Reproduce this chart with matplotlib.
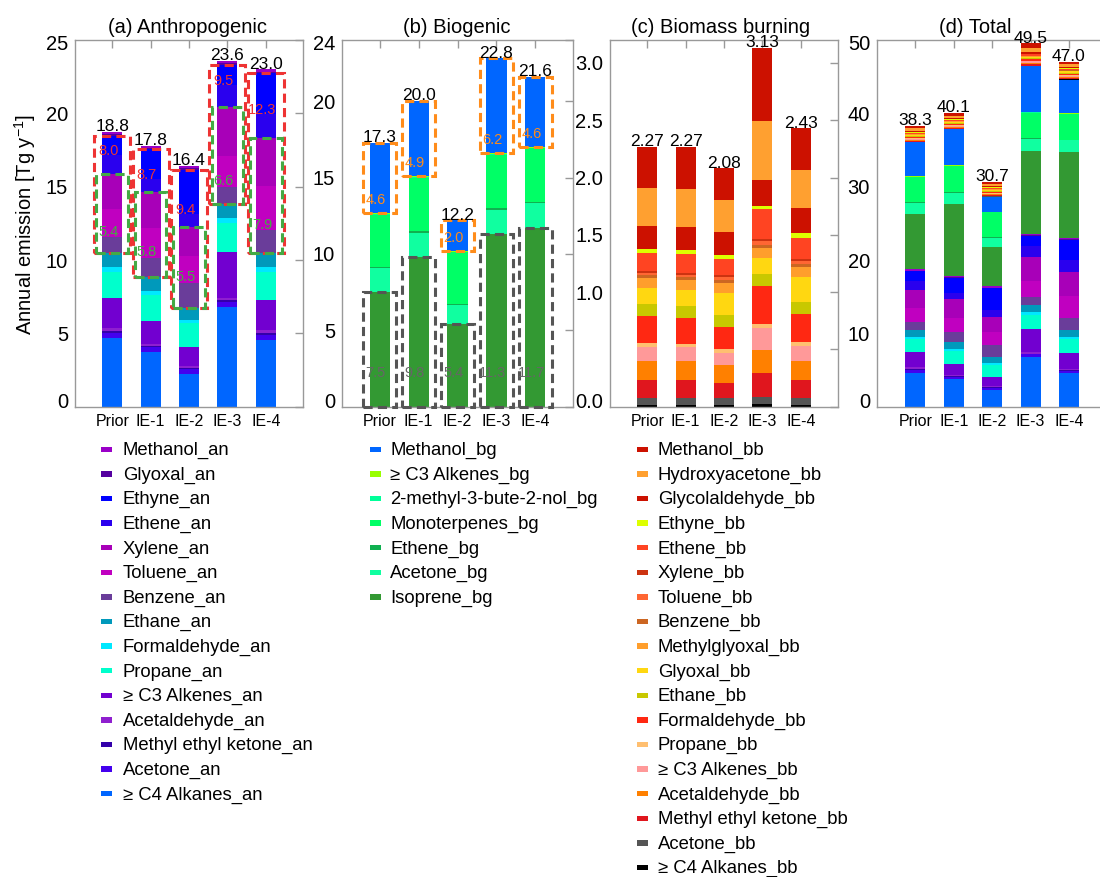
import matplotlib
matplotlib.use('Agg')
import matplotlib.pyplot as plt
from matplotlib.patches import Rectangle
from matplotlib.transforms import ScaledTranslation
import numpy as np

plt.rcParams['font.family'] = ['Liberation Sans', 'DejaVu Sans']
plt.rcParams['mathtext.fontset'] = 'custom'
plt.rcParams['mathtext.rm'] = 'Liberation Sans'
plt.rcParams['mathtext.it'] = 'Liberation Sans:italic'

# ---------------- data ----------------
scenarios = ['Prior', 'IE-1', 'IE-2', 'IE-3', 'IE-4']

# Anthropogenic (stack order bottom -> top), Tg/yr
an_c4_alkanes   = [4.65, 3.75, 2.25, 6.80, 4.55]
an_acetone      = [0.40, 0.30, 0.30, 0.35, 0.35]
an_mek          = [0.10, 0.10, 0.10, 0.10, 0.10]
an_acetaldehyde = [0.20, 0.15, 0.15, 0.15, 0.20]
an_c3_alkenes   = [2.05, 1.55, 1.30, 3.15, 2.10]
an_propane      = [1.80, 1.75, 1.60, 1.95, 1.90]
an_formaldehyde = [0.30, 0.30, 0.20, 0.35, 0.30]
an_ethane       = [0.95, 0.95, 0.85, 0.95, 0.95]
an_benzene      = [1.10, 1.30, 1.70, 1.20, 1.60]
an_toluene      = [1.90, 2.00, 1.80, 2.10, 3.00]
an_xylene       = [2.40, 2.50, 2.00, 3.30, 3.30]
an_ethene       = [1.30, 0.90, 0.90, 1.50, 1.60]
an_ethyne       = [1.30, 2.00, 3.00, 1.40, 2.80]
an_glyoxal      = [0.12, 0.10, 0.10, 0.10, 0.10]
an_methanol     = [0.19, 0.15, 0.15, 0.20, 0.15]

an_names = ['\u2265 C4 Alkanes_an', 'Acetone_an', 'Methyl ethyl ketone_an', 'Acetaldehyde_an',
            '\u2265 C3 Alkenes_an', 'Propane_an', 'Formaldehyde_an', 'Ethane_an', 'Benzene_an',
            'Toluene_an', 'Xylene_an', 'Ethene_an', 'Ethyne_an', 'Glyoxal_an', 'Methanol_an']
an_colors = ['#0066FF', '#4400EE', '#3300AA', '#8F1FCF', '#7200D0', '#00FFCC', '#00E8FF',
             '#0099BB', '#6A3D9A', '#C000C0', '#A800B8', '#2A00EE', '#0000FF', '#5500A0', '#9A00C8']

# Biogenic (bottom -> top)
bg_isoprene     = [7.50, 9.80, 5.40, 11.30, 11.70]
bg_acetone      = [1.55, 1.60, 1.25, 1.60, 1.60]
bg_ethene       = [0.10, 0.10, 0.10, 0.10, 0.10]
bg_monoterpenes = [3.42, 3.50, 3.35, 3.50, 3.50]
bg_mbo          = [0.05, 0.05, 0.05, 0.05, 0.05]
bg_c3_alkenes   = [0.05, 0.05, 0.05, 0.05, 0.05]
bg_methanol     = [4.60, 4.90, 2.00, 6.20, 4.60]

bg_names = ['Isoprene_bg', 'Acetone_bg', 'Ethene_bg', 'Monoterpenes_bg',
            '2-methyl-3-bute-2-nol_bg', '\u2265 C3 Alkenes_bg', 'Methanol_bg']
bg_colors = ['#339933', '#10FFA0', '#10B050', '#00FF66', '#00FF99', '#99FF00', '#0066FF']

# Biomass burning (bottom -> top)
bb_c4_alkanes     = [0.015, 0.015, 0.015, 0.020, 0.015]
bb_acetone        = [0.060, 0.060, 0.060, 0.065, 0.060]
bb_mek            = [0.160, 0.160, 0.135, 0.210, 0.160]
bb_acetaldehyde   = [0.160, 0.160, 0.150, 0.200, 0.160]
bb_c3_alkenes     = [0.125, 0.125, 0.105, 0.190, 0.135]
bb_propane        = [0.035, 0.030, 0.035, 0.035, 0.035]
bb_formaldehyde   = [0.240, 0.220, 0.195, 0.330, 0.240]
bb_ethane         = [0.105, 0.105, 0.105, 0.110, 0.105]
bb_glyoxal        = [0.140, 0.145, 0.190, 0.135, 0.220]
bb_methylglyoxal  = [0.085, 0.090, 0.090, 0.090, 0.090]
bb_benzene        = [0.020, 0.020, 0.025, 0.030, 0.025]
bb_toluene        = [0.020, 0.020, 0.025, 0.030, 0.025]
bb_xylene         = [0.015, 0.015, 0.015, 0.020, 0.020]
bb_ethene         = [0.165, 0.170, 0.140, 0.260, 0.185]
bb_ethyne         = [0.030, 0.035, 0.040, 0.030, 0.040]
bb_glycolaldehyde = [0.200, 0.200, 0.200, 0.220, 0.220]
bb_hydroxyacetone = [0.330, 0.330, 0.280, 0.520, 0.330]
bb_methanol       = [0.365, 0.370, 0.275, 0.635, 0.365]

bb_names = ['\u2265 C4 Alkanes_bb', 'Acetone_bb', 'Methyl ethyl ketone_bb', 'Acetaldehyde_bb',
            '\u2265 C3 Alkenes_bb', 'Propane_bb', 'Formaldehyde_bb', 'Ethane_bb', 'Glyoxal_bb',
            'Methylglyoxal_bb', 'Benzene_bb', 'Toluene_bb', 'Xylene_bb', 'Ethene_bb', 'Ethyne_bb',
            'Glycolaldehyde_bb', 'Hydroxyacetone_bb', 'Methanol_bb']
bb_colors = ['#000000', '#555555', '#E0161E', '#FF8000', '#FF9999', '#FFBF70', '#FF2812',
             '#C8C800', '#FFD711', '#FF9E2C', '#CC6622', '#FF6633', '#CC3311', '#FF4422',
             '#DDFF00', '#CC1100', '#FFA030', '#CC1100']

an_series = [an_c4_alkanes, an_acetone, an_mek, an_acetaldehyde, an_c3_alkenes, an_propane,
             an_formaldehyde, an_ethane, an_benzene, an_toluene, an_xylene, an_ethene,
             an_ethyne, an_glyoxal, an_methanol]
bg_series = [bg_isoprene, bg_acetone, bg_ethene, bg_monoterpenes, bg_mbo, bg_c3_alkenes, bg_methanol]
bb_series = [bb_c4_alkanes, bb_acetone, bb_mek, bb_acetaldehyde, bb_c3_alkenes, bb_propane,
             bb_formaldehyde, bb_ethane, bb_glyoxal, bb_methylglyoxal, bb_benzene, bb_toluene,
             bb_xylene, bb_ethene, bb_ethyne, bb_glycolaldehyde, bb_hydroxyacetone, bb_methanol]

# ---------------- figure ----------------
W, H = 1100, 877
fig = plt.figure(figsize=(W / 100, H / 100), dpi=100)


def px_axes(left, top, right, bottom):
    return fig.add_axes([left / W, 1 - bottom / H, (right - left) / W, (bottom - top) / H])


ax_a = px_axes(75, 40, 303, 406.7)
ax_b = px_axes(342, 40, 573, 406.7)
ax_c = px_axes(610, 40, 838, 406.7)
ax_d = px_axes(877, 40, 1112, 406.7)

x = np.arange(len(scenarios))
BAR_W = 0.52
SPINE = '#999999'


def stack(ax, series, colors, base=None):
    bottom = np.zeros(len(x)) if base is None else np.array(base, dtype=float)
    tops = []
    for vals, col in zip(series, colors):
        v = np.array(vals, dtype=float)
        ax.bar(x, v, BAR_W, bottom=bottom, color=col, linewidth=0, zorder=2)
        bottom = bottom + v
        tops.append(bottom.copy())
    return tops


def style(ax, ylim, yticks, ylabels, xlim=(-0.97, 4.97)):
    ax.set_xlim(*xlim)
    ax.set_ylim(*ylim)
    ax.set_yticks(yticks)
    ax.set_yticklabels(ylabels)
    ax.set_xticks(x)
    ax.set_xticklabels(scenarios)
    ax.tick_params(axis='x', bottom=False, top=True, direction='in', length=6, width=1,
                   color=SPINE, labelsize=11.5, pad=5)
    ax.tick_params(axis='y', left=False, right=True, direction='in', length=6, width=1,
                   color=SPINE, labelsize=14.5, pad=5)
    for s in ax.spines.values():
        s.set_color(SPINE)
        s.set_linewidth(1)
    labs = ax.get_yticklabels()
    for val, lab in zip(yticks, labs):
        if abs(val - ylim[0]) < 1e-9:
            lab.set_transform(lab.get_transform() + ScaledTranslation(0, 6 / 100, fig.dpi_scale_trans))
        elif abs(val - ylim[1]) < 1e-9:
            lab.set_transform(lab.get_transform() + ScaledTranslation(0, -3 / 100, fig.dpi_scale_trans))


def box(ax, xi, y0, y1, half, color):
    ax.add_patch(Rectangle((xi - half, y0), 2 * half, y1 - y0, fill=False, edgecolor=color,
                           linewidth=2.2, linestyle=(0, (3, 1.7)), zorder=4, clip_on=False))


def total_labels(ax, totals, fmt):
    for xi, t in zip(x, totals):
        ax.annotate(fmt.format(t), xy=(xi, t), xytext=(0, 0.5), textcoords='offset points',
                    ha='center', va='baseline', fontsize=12.5, zorder=5)


def box_label(ax, xi, y, val, color, dy=0.0):
    ax.annotate('{:.1f}'.format(val), xy=(xi - 0.1, y), xytext=(0, dy), textcoords='offset points',
                ha='center', va='baseline', fontsize=10.5, color=color, zorder=6)


RED = '#EE3333'
GREEN = '#44AA44'
ORANGE = '#FF8C1A'
GREY = '#666666'

# ---- (a) anthropogenic ----
ta = stack(ax_a, an_series, an_colors)
style(ax_a, (0, 25), [0, 5, 10, 15, 20, 25], ['0', '5', '10', '15', '20', '25'])
aromatics = np.array(an_benzene) + np.array(an_toluene) + np.array(an_xylene)
red_sum = aromatics + np.array(an_ethene) + np.array(an_ethyne)
for i in x:
    box(ax_a, i, ta[7][i], ta[12][i], 0.47, RED)
    box(ax_a, i, ta[7][i], ta[10][i], 0.41, GREEN)
    box_label(ax_a, i, ta[11][i], red_sum[i], RED)
    box_label(ax_a, i, ta[8][i], aromatics[i], GREEN, dy=1)
total_labels(ax_a, ta[-1], '{:.1f}')

# ---- (b) biogenic ----
tb = stack(ax_b, bg_series, bg_colors)
style(ax_b, (0, 24), [0, 5, 10, 15, 20, 24], ['0', '5', '10', '15', '20', '24'])
for i in x:
    box(ax_b, i, tb[5][i], tb[6][i], 0.43, ORANGE)
    box(ax_b, i, 0, tb[0][i], 0.43, '#555555')
    box_label(ax_b, i, tb[5][i], bg_methanol[i], ORANGE, dy=6.3)
    box_label(ax_b, i, 1.95, bg_isoprene[i], GREY)
total_labels(ax_b, tb[-1], '{:.1f}')

# ---- (c) biomass burning ----
tc = stack(ax_c, bb_series, bb_colors)
style(ax_c, (0, 3.2), [0, 0.5, 1.0, 1.5, 2.0, 2.5, 3.0], ['0.0', '', '1.0', '1.5', '2.0', '2.5', '3.0'])
total_labels(ax_c, tc[-1], '{:.2f}')

# ---- (d) total ----
td1 = stack(ax_d, an_series, an_colors)
td2 = stack(ax_d, bg_series, bg_colors, base=td1[-1])
td3 = stack(ax_d, bb_series, bb_colors, base=td2[-1])
style(ax_d, (0, 50), [0, 10, 20, 30, 40, 50], ['0', '10', '20', '30', '40', '50'], xlim=(-1.0, 5.12))
total_labels(ax_d, td3[-1], '{:.1f}')

# ---- titles & y label ----
for cx, t in [(188, '(a) Anthropogenic'), (457, '(b) Biogenic'),
              (721, '(c) Biomass burning'), (975, '(d) Total')]:
    fig.text(cx / W, 1 - 33.3 / H, t, ha='center', va='baseline', fontsize=14.5)
fig.text(25 / W, 1 - 224 / H, 'Annual emission [Tg y$^{-1}$]', rotation=90,
         ha='center', va='center', fontsize=14.5)


# ---- legends ----
def draw_legend(names, colors, mx, tx):
    for i, (lab, col) in enumerate(zip(names[::-1], colors[::-1])):
        yc = 449.3 + i * 24.6
        fig.patches.append(Rectangle(((mx - 5.3) / W, 1 - (yc + 2.7) / H), 10.7 / W, 5.4 / H,
                                     transform=fig.transFigure, facecolor=col, edgecolor='none',
                                     figure=fig))
        fig.text(tx / W, 1 - (yc + 5.7) / H, lab, ha='left', va='baseline', fontsize=13.3)


draw_legend(an_names, an_colors, 106.7, 122.7)
draw_legend(bg_names, bg_colors, 375.3, 390)
draw_legend(bb_names, bb_colors, 642.7, 657.7)

fig.savefig('out.png', dpi=100)
